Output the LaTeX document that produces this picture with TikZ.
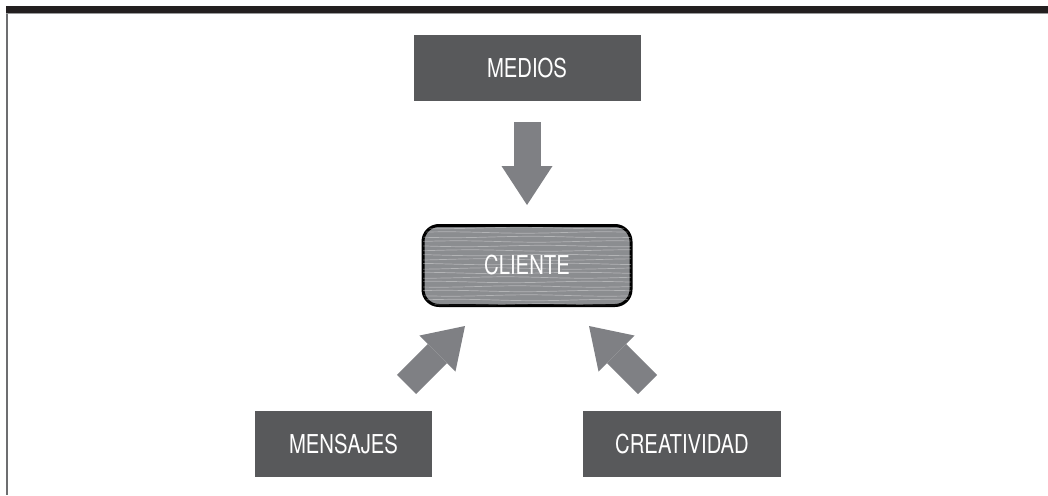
\documentclass[tikz,border=0pt]{standalone}
\usepackage{fontspec}
\newfontfamily\condfont{TeX Gyre Heros}[FakeStretch=0.78]
\usetikzlibrary{arrows.meta}
\definecolor{barblack}{HTML}{231F20}
\definecolor{framegray}{HTML}{6D6E70}
\definecolor{boxgray}{HTML}{58595B}
\definecolor{arrowgray}{HTML}{7F8084}
\definecolor{clientgray}{HTML}{8B8D90}
\tikzset{
  darkbox/.style={fill=boxgray, draw=none, text=white, inner sep=0pt,
    font=\condfont\fontsize{26}{30}\selectfont},
  clientbox/.style={fill=clientgray, draw=black, line width=3pt, rounded corners=16pt,
    text=white, inner sep=0pt, font=\condfont\fontsize{26}{30}\selectfont},
  bigarrow/.style={draw=arrowgray, line width=27pt,
    -{Triangle[length=39pt,width=51pt,line width=0pt]}},
}
\begin{document}
\begin{tikzpicture}[x=1pt,y=-1pt]
\useasboundingbox (0,0) rectangle (1048,495);
% frame
\fill[framegray] (6,6) rectangle (7.6,495);
\fill[barblack] (6,6) rectangle (1048,13);
\fill[framegray!70] (6,12.6) rectangle (1048,13.6);
% boxes
\node[darkbox, minimum width=227pt, minimum height=66pt] (medios) at (527,68) {MEDIOS};
\node[darkbox, minimum width=177pt, minimum height=66pt] (mensajes) at (343.5,444) {MENSAJES};
\node[darkbox, minimum width=198pt, minimum height=66pt] (creatividad) at (682,444) {CREATIVIDAD};
\node[clientbox, minimum width=208pt, minimum height=80pt] (cliente) at (527,265.5) {};
\begin{scope}
  \clip[rounded corners=15pt] (423,226) rectangle (631,305);
  \foreach \yy in {228,232.5,...,306} {
    \draw[white, opacity=0.35, line width=0.7pt]
      plot[domain=421:633, samples=25, smooth] (\x, {\yy + 0.7*sin(\x*2.3+\yy*37)});
  }
\end{scope}
\node[text=white, font=\condfont\fontsize{26}{30}\selectfont] at (cliente.center) {CLIENTE};
% arrows
\coordinate (mstart) at (527,122);
\coordinate (mend) at (527,205);
\coordinate (lstart) at (406.5,384.5);
\coordinate (lend) at (465,326);
\coordinate (rstart) at (647.5,384.5);
\coordinate (rend) at (589,326);
\draw[bigarrow] (mstart) -- (mend);
\draw[bigarrow] (lstart) -- (lend);
\draw[bigarrow] (rstart) -- (rend);
\end{tikzpicture}
\end{document}
